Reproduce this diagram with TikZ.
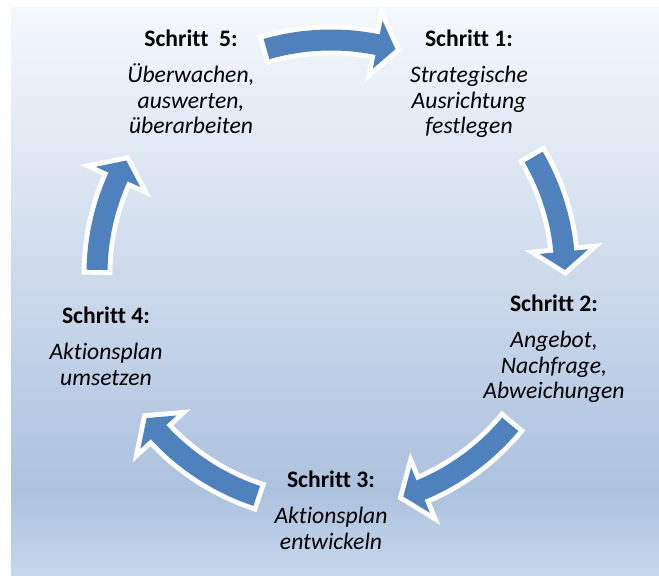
\documentclass[tikz,border=0pt]{standalone}
\usepackage{fontspec}
\setmainfont{Carlito}[Ligatures=NoCommon]
\usetikzlibrary{positioning}

\definecolor{arrowblue}{HTML}{4F81BD}
\definecolor{paneltop}{HTML}{F5F8FC}
\definecolor{paneldark}{HTML}{ADC2DF}
\definecolor{panelbot}{HTML}{C7D7EB}
\pgfdeclareverticalshading{panelshade}{100bp}{color(0bp)=(panelbot); color(25bp)=(panelbot); color(32.5bp)=(paneldark); color(75bp)=(paneltop); color(100bp)=(paneltop)}

\begin{document}
\begin{tikzpicture}[x=0.025cm, y=-0.025cm,
    steptext/.style={align=center, inner sep=0pt, anchor=north, font=\fontsize{16.8}{18.3}\selectfont\itshape},
    cyclearrow/.style={fill=arrowblue, preaction={draw=white, fill=white, line width=7pt, line join=miter}}]
    \def\cycarrow#1#2{%
        \fill[cyclearrow] (#1:244.5) arc[start angle=#1, end angle=#2+4.5, radius=244.5]
            -- (#2+4.5:258.5) -- (#2:234) -- (#2+4.5:209.5) -- (#2+4.5:223.5)
            arc[start angle=#2+4.5, end angle=#1, radius=223.5] -- cycle;
    }
    \def\steptitle#1{\textbf{\upshape Schritt #1:}}

    \useasboundingbox (0,0) rectangle (659,576);
    \shade[shading=panelshade] (11,8) rectangle (659,576);

    \begin{scope}[shift={(331,274)}, yscale=-1]
        \cycarrow{106}{74}
        \cycarrow{30}{1}
        \cycarrow{-40}{-72}
        \cycarrow{-108.5}{-142}
        \cycarrow{179}{151}
    \end{scope}

    \node[steptext] (s1) at (469,30) {\steptitle{1}\\[7pt]Strategische\\Ausrichtung\\festlegen};
    \node[steptext] (s2) at (554,295) {\steptitle{2}\\[7pt]Angebot,\\Nachfrage,\\Abweichungen};
    \node[steptext] (s3) at (331,471) {\steptitle{3}\\[7pt]Aktionsplan\\entwickeln};
    \node[steptext] (s4) at (106,307) {\steptitle{4}\\[7pt]Aktionsplan\\umsetzen};
    \node[steptext] (s5) at (191,30) {\steptitle{~5}\\[7pt]Überwachen,\\auswerten,\\überarbeiten};
\end{tikzpicture}
\end{document}
